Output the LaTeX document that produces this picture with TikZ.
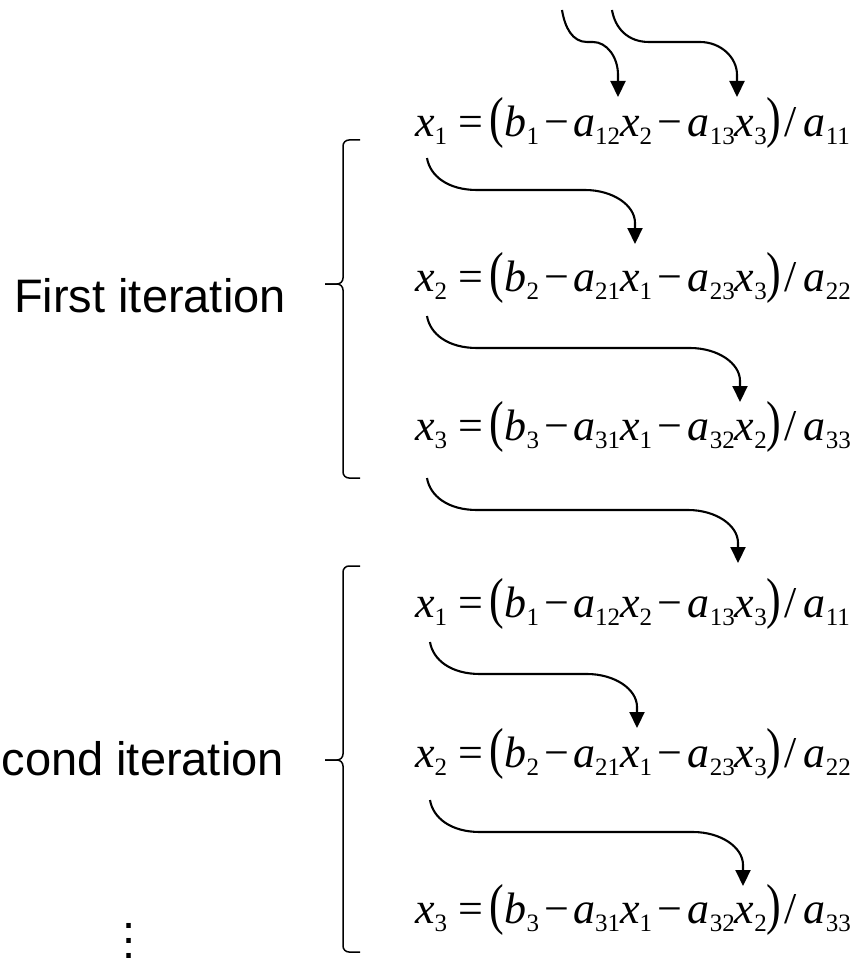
\documentclass[tikz,border=0pt]{standalone}
\usepackage{fontspec}
\setmainfont{Liberation Serif}
\newfontfamily\sansf{Liberation Sans}
\usetikzlibrary{arrows.meta,calc}
\newcommand\sv[2]{\textit{#1}\raisebox{-8pt}{\fontsize{25}{25}\selectfont #2}}%
\newcommand\lpar{\scalebox{1}[1.28]{(}}%
\newcommand\rpar{\scalebox{1}[1.28]{)}}%
\newcommand\eqrow[3]{\sv{x}{#1}\hspace{11pt}=\hspace{6pt}\lpar\hspace{1pt}\sv{b}{#1}\hspace{5pt}−\hspace{4pt}\sv{a}{#1#2}\sv{x}{#2}\hspace{5pt}−\hspace{6pt}\sv{a}{#1#3}\sv{x}{#3}\rpar\hspace{3pt}/\hspace{7pt}\sv{a}{#1#1}}%
\newcommand\flow[3]{\draw[conn] (#2) .. controls ($(#2)+(3,18)$) and ($(#2)+(0.42*#1,32)$) .. ($(#2)+(#1,32)$) -- ($(#3 |- #2)+(-#1,32)$) .. controls ($(#3 |- #2)+(-0.45*#1,32)$) and ($(#3 |- #2)+(0,47)$) .. ($(#3 |- #2)+(0,65)$) -- (#3);}
\begin{document}
\begin{tikzpicture}[x=1pt,y=-1pt,
  eq/.style={anchor=base west,inner sep=0pt,font=\fontsize{44}{50}\selectfont},
  lab/.style={anchor=base east,inner sep=0pt,font=\sansf\fontsize{47}{56}\selectfont},
  dotn/.style={anchor=south,inner sep=0pt,align=center,font=\sansf\fontsize{47}{15}\selectfont},
  conn/.style={line width=2.1pt,-{Triangle[length=16pt,width=15pt]}},
  bracestyle/.style={line width=1.5pt,rounded corners=6pt}]
\useasboundingbox (0,0) rectangle (860,960);
\clip (0,0) rectangle (860,960);
\fill[white] (0,0) rectangle (860,960);
% equations
\node[eq] (e1) at (415,137) {\eqrow{1}{2}{3}};
\node[eq] (e2) at (415,291) {\eqrow{2}{1}{3}};
\node[eq] (e3) at (415,440) {\eqrow{3}{1}{2}};
\node[eq] (e4) at (415,617) {\eqrow{1}{2}{3}};
\node[eq] (e5) at (415,767) {\eqrow{2}{1}{3}};
\node[eq] (e6) at (415,923) {\eqrow{3}{1}{2}};
% labels
\node[lab] (l1) at (286,312) {First iteration};
\node[lab] (l2) at (284,775) {Second iteration};
\node[dotn] (dots) at (129,959) {.\\.\\.};
% braces
\draw[bracestyle] (360,140) -| (343,284) -- (325,284);
\draw[bracestyle] (325,284) -| (343,478) -- (360,478);
\draw[bracestyle] (360,566) -| (343,760) -- (325,760);
\draw[bracestyle] (325,760) -| (343,952) -- (360,952);
% connector end points
\coordinate (sA) at (562,10);  \coordinate (tA) at (618,97);
\coordinate (sB) at (612,10);  \coordinate (tB) at (737,97);
\coordinate (s1) at (427,158); \coordinate (t1) at (635,244);
\coordinate (s2) at (427,316); \coordinate (t2) at (740,402);
\coordinate (s3) at (427,478); \coordinate (t3) at (738,563);
\coordinate (s4) at (430,642); \coordinate (t4) at (637,728);
\coordinate (s5) at (430,800); \coordinate (t5) at (743,886);
\flow{25}{sA}{tA}
\flow{37}{sB}{tB}
\flow{50}{s1}{t1}
\flow{50}{s2}{t2}
\flow{50}{s3}{t3}
\flow{50}{s4}{t4}
\flow{50}{s5}{t5}
\end{tikzpicture}
\end{document}
